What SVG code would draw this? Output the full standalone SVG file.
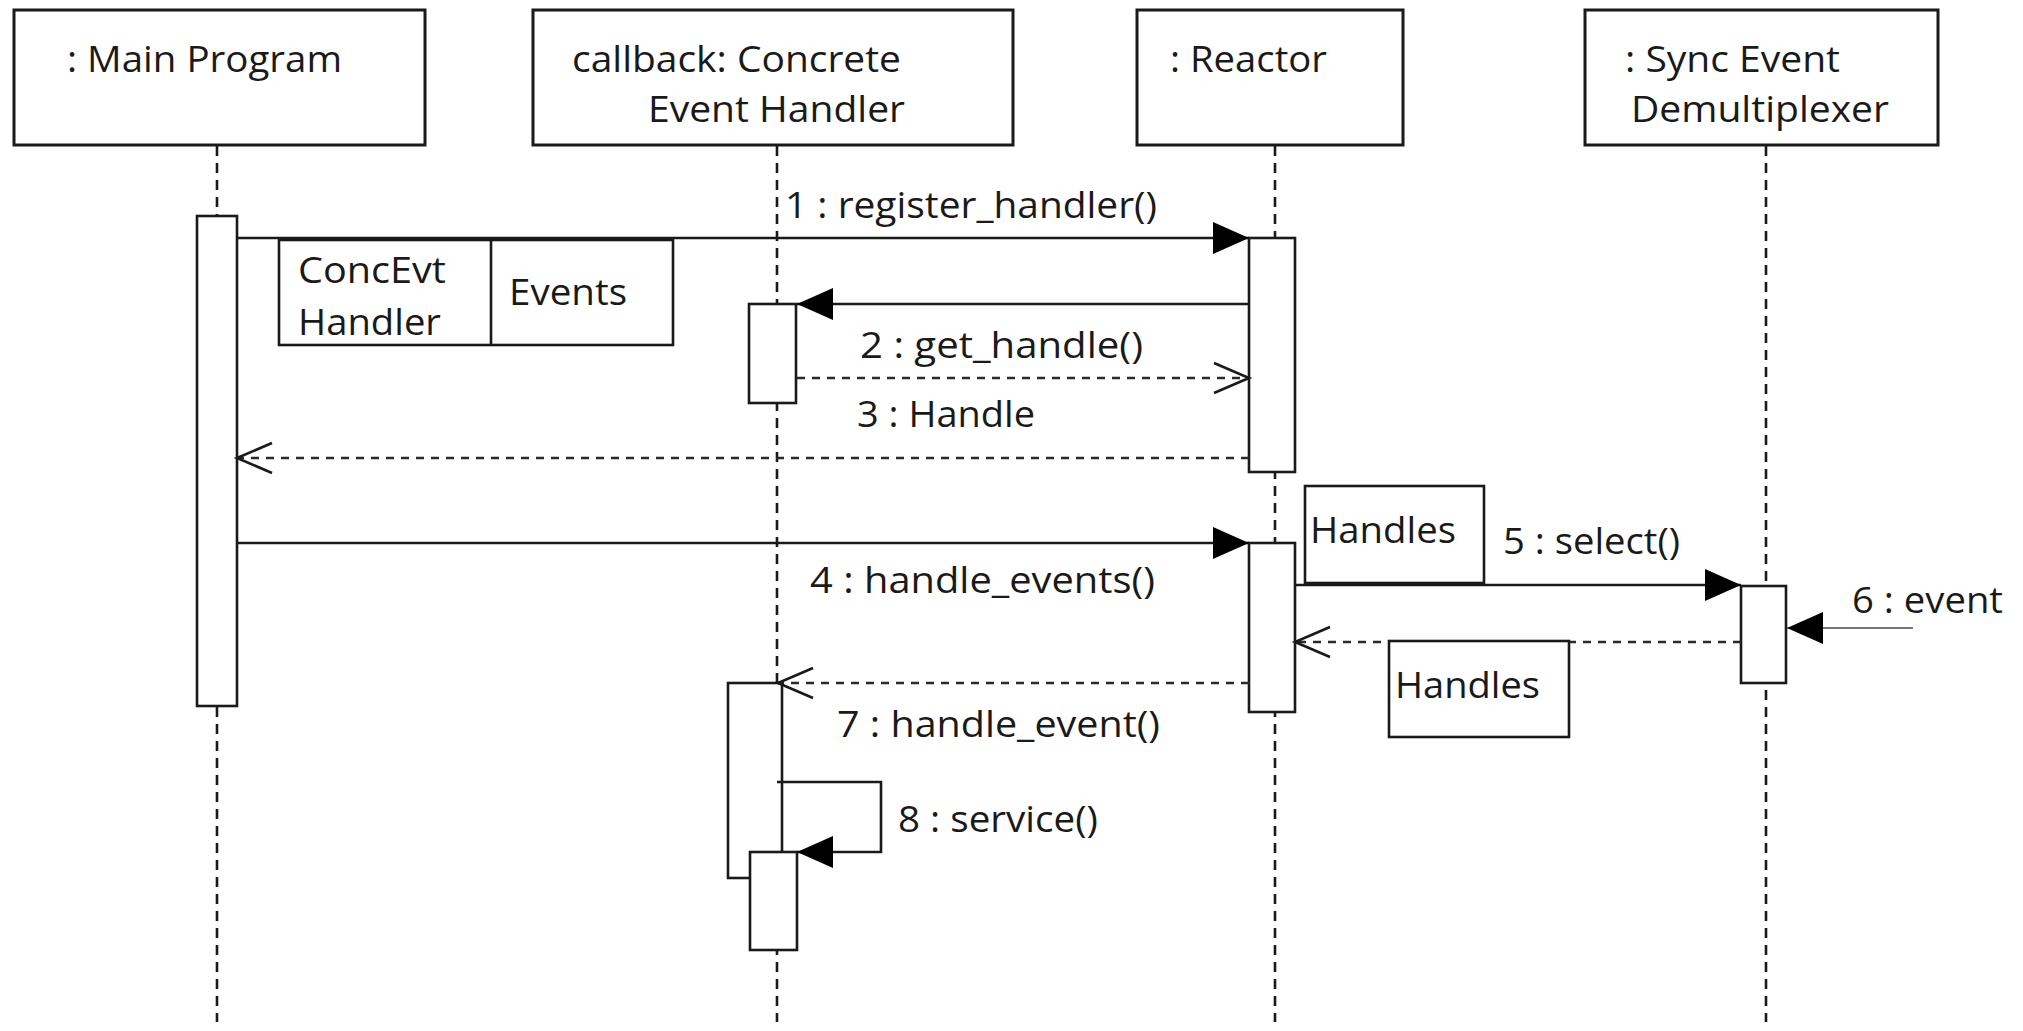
<svg xmlns="http://www.w3.org/2000/svg" width="2023" height="1031" viewBox="0 0 2023 1031">
<style>
  .box{fill:#fff;stroke:#1a1a1a;stroke-width:3}
  .act{fill:#fff;stroke:#1a1a1a;stroke-width:2.6}
  .note{fill:#fff;stroke:#1a1a1a;stroke-width:2.6}
  .life{stroke:#1a1a1a;stroke-width:2.6;stroke-dasharray:10 7;fill:none}
  .msg{stroke:#1a1a1a;stroke-width:2.6;fill:none}
  .ret{stroke:#2a2a2a;stroke-width:2.6;fill:none;stroke-dasharray:8 7}
  .ext{stroke:#777;stroke-width:2;fill:none}
  text{font-family:"Open Sans","Liberation Sans",sans-serif;font-size:36px;fill:#1a1a1a}
</style>
<defs>
  <marker id="filled" viewBox="0 0 36 32" refX="36" refY="16" markerWidth="36" markerHeight="32" markerUnits="userSpaceOnUse" orient="auto">
    <path d="M0,0 L36,16 L0,32 Z" fill="#000"/>
  </marker>
  <marker id="open" viewBox="-2 -2 40 34" refX="35" refY="15" markerWidth="40" markerHeight="34" markerUnits="userSpaceOnUse" orient="auto" overflow="visible">
    <path d="M0,0 L35,15 L0,30" fill="none" stroke="#1a1a1a" stroke-width="2.6"/>
  </marker>
</defs>
<rect width="2023" height="1031" fill="#fff"/>

<g id="lifelines">
  <line class="life" x1="217" y1="146" x2="217" y2="1022"/>
  <line class="life" x1="777" y1="146" x2="777" y2="1022"/>
  <line class="life" x1="1275" y1="146" x2="1275" y2="1022"/>
  <line class="life" x1="1766" y1="146" x2="1766" y2="1022"/>
</g>

<g id="main-program">
  <rect class="box" x="14" y="10" width="411" height="135"/>
  <text x="67" y="72" textLength="275" lengthAdjust="spacingAndGlyphs">: Main Program</text>
  <rect class="act" x="197" y="216" width="40" height="490"/>
</g>

<g id="concrete-event-handler">
  <rect class="box" x="533" y="10" width="480" height="135"/>
  <text x="572" y="72" textLength="329" lengthAdjust="spacingAndGlyphs">callback: Concrete</text>
  <text x="648" y="122" textLength="257" lengthAdjust="spacingAndGlyphs">Event Handler</text>
  <rect class="act" x="749" y="304" width="47" height="99"/>
  <rect class="act" x="728" y="683" width="54" height="195"/>
  <rect class="act" x="750" y="852" width="47" height="98"/>
</g>

<g id="reactor">
  <rect class="box" x="1137" y="10" width="266" height="135"/>
  <text x="1170" y="72" textLength="157" lengthAdjust="spacingAndGlyphs">: Reactor</text>
  <rect class="act" x="1249" y="238" width="46" height="234"/>
  <rect class="act" x="1249" y="543" width="46" height="169"/>
</g>

<g id="sync-event-demultiplexer">
  <rect class="box" x="1585" y="10" width="353" height="135"/>
  <text x="1625" y="72" textLength="215" lengthAdjust="spacingAndGlyphs">: Sync Event</text>
  <text x="1631" y="122" textLength="258" lengthAdjust="spacingAndGlyphs">Demultiplexer</text>
  <rect class="act" x="1741" y="586" width="45" height="97"/>
</g>

<g id="connectors">
  <line class="msg" x1="237" y1="238" x2="1249" y2="238" marker-end="url(#filled)"/>
  <line class="msg" x1="1249" y1="304" x2="797" y2="304" marker-end="url(#filled)"/>
  <line class="ret" x1="797" y1="378" x2="1249" y2="378" marker-end="url(#open)"/>
  <line class="ret" x1="1249" y1="458" x2="237" y2="458" marker-end="url(#open)"/>
  <line class="msg" x1="237" y1="543" x2="1249" y2="543" marker-end="url(#filled)"/>
  <line class="msg" x1="1295" y1="585" x2="1741" y2="585" marker-end="url(#filled)"/>
  <line class="ext" x1="1913" y1="628" x2="1787" y2="628" marker-end="url(#filled)"/>
  <line class="ret" x1="1741" y1="642" x2="1295" y2="642" marker-end="url(#open)"/>
  <line class="ret" x1="1249" y1="683" x2="778" y2="683" marker-end="url(#open)"/>
  <path class="msg" d="M777,782 H881 V852 H797" marker-end="url(#filled)"/>
</g>

<g id="labels">
  <text x="785" y="218" textLength="372" lengthAdjust="spacingAndGlyphs">1 : register_handler()</text>
  <text x="860" y="358" textLength="283" lengthAdjust="spacingAndGlyphs">2 : get_handle()</text>
  <text x="857" y="427" textLength="178" lengthAdjust="spacingAndGlyphs">3 : Handle</text>
  <text x="810" y="593" textLength="345" lengthAdjust="spacingAndGlyphs">4 : handle_events()</text>
  <text x="1503" y="554" textLength="177" lengthAdjust="spacingAndGlyphs">5 : select()</text>
  <text x="1852" y="613" textLength="151" lengthAdjust="spacingAndGlyphs">6 : event</text>
  <text x="837" y="737" textLength="323" lengthAdjust="spacingAndGlyphs">7 : handle_event()</text>
  <text x="898" y="832" textLength="200" lengthAdjust="spacingAndGlyphs">8 : service()</text>
</g>

<g id="note-conc-events">
  <rect class="note" x="279" y="240" width="394" height="105"/>
  <line class="msg" x1="491" y1="240" x2="491" y2="345"/>
  <text x="298" y="283" textLength="148" lengthAdjust="spacingAndGlyphs">ConcEvt</text>
  <text x="298" y="335" textLength="143" lengthAdjust="spacingAndGlyphs">Handler</text>
  <text x="509" y="305" textLength="118" lengthAdjust="spacingAndGlyphs">Events</text>
</g>

<g id="note-handles-select">
  <rect class="note" x="1305" y="486" width="179" height="97"/>
  <text x="1310" y="543" textLength="146" lengthAdjust="spacingAndGlyphs">Handles</text>
</g>

<g id="note-handles-return">
  <rect class="note" x="1389" y="641" width="180" height="96"/>
  <text x="1395" y="698" textLength="145" lengthAdjust="spacingAndGlyphs">Handles</text>
</g>
</svg>
